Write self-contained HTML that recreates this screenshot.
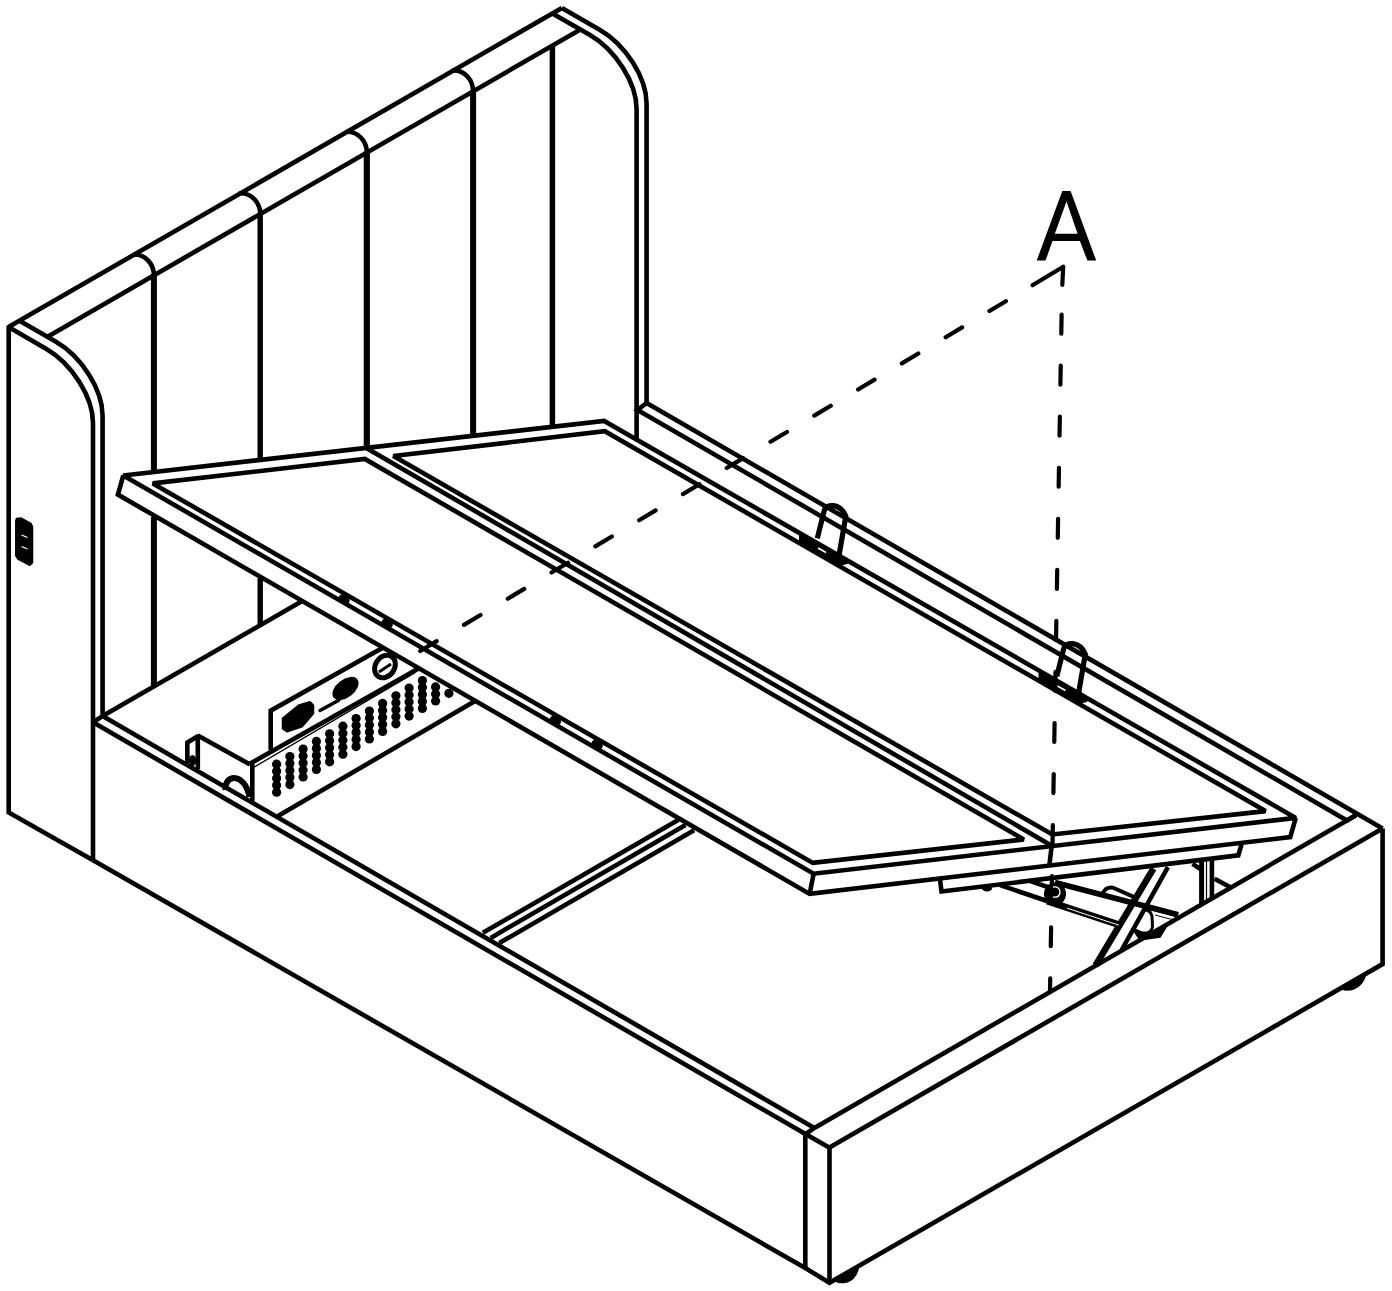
<!DOCTYPE html>
<html><head><meta charset="utf-8"><style>
html,body{margin:0;padding:0;background:#fff;}
svg{display:block;}
.A{font-family:"Liberation Sans",sans-serif;}
</style></head><body>
<svg width="1392" height="1291" viewBox="0 0 1392 1291">
<rect width="1392" height="1291" fill="#fff"/>
<g fill="none" stroke="#000" stroke-linejoin="miter" stroke-miterlimit="2.5" stroke-linecap="butt">
<path d="M8.5,327.1 L561.9,7.9" stroke-width="4.6" />
<path d="M48.0,336.4 L579.1,30.2" stroke-width="4.6" />
<path d="M8.5,327.1 L46.0,348.7 C72.0,363.7 93.0,396.9 93.0,422.9 L93.0,859.9" stroke-width="4.6" />
<path d="M19.5,320.8 L55.6,341.6 C81.6,356.6 102.6,389.7 102.6,415.7 L102.6,716.1" stroke-width="4.6" />
<path d="M561.9,7.9 L599.6,29.7 C625.6,44.6 646.6,77.8 646.6,103.8 L646.6,403" stroke-width="4.6" />
<path d="M552.4,13.4 L589.6,34.8 C615.6,49.8 636.6,83.0 636.6,109.0 L636.6,439.2" stroke-width="4.6" />
<path d="M133.4,255.1 L134.4,254.5 C145.2,254.5 153.9,263.8 153.9,275.3" stroke-width="4.6" />
<path d="M153.9,274.3 L153.9,473.0" stroke-width="6.0" />
<path d="M239.7,193.8 L240.7,193.2 C251.5,193.2 260.2,202.5 260.2,214.1" stroke-width="4.6" />
<path d="M260.2,213.1 L260.2,461.0" stroke-width="5.4" />
<path d="M346.3,132.3 L347.3,131.7 C358.1,131.7 366.8,141.0 366.8,152.6" stroke-width="4.6" />
<path d="M366.8,151.6 L366.8,448.8" stroke-width="6.2" />
<path d="M452.6,71.0 L453.6,70.4 C464.4,70.4 473.1,79.7 473.1,91.3" stroke-width="4.6" />
<path d="M473.1,90.3 L473.1,436.8" stroke-width="6.0" />
<path d="M552.4,45.6 L552.4,427.8" stroke-width="5.5" />
<path d="M153.9,516.9 L153.9,685.6" stroke-width="6.0" />
<path d="M260.2,578.2 L260.2,624.9" stroke-width="5.4" />
<path d="M8.7,325.6 L8.7,812.4 L92.6,859.9" stroke-width="4.6" />
<path d="M16.4,518.6 L21.1,518.0 L31.0,523.6 L32.5,526.7 L32.5,562.6 L29.8,565.4 L18.0,559.2 L15.8,555.8 L15.8,521.0 Z" fill="#000" stroke="#000" stroke-width="1.5" />
<path d="M21.5,535 L27.5,537.5" stroke-width="1.3" stroke="#fff"/>
<path d="M21.5,546.5 L27.5,549" stroke-width="1.3" stroke="#fff"/>
<path d="M93.0,722.3 L805.5,1134.1" stroke-width="4.6" />
<path d="M102.6,716.1 L814.4,1127.9" stroke-width="4.6" />
<path d="M93.0,722.3 L102.6,716.1" stroke-width="4.6" />
<path d="M814.4,1127.9 L805.5,1134.1 L829.5,1147.8" stroke-width="4.6" />
<path d="M805.3,1134.1 L805.3,1268.1" stroke-width="4.6" />
<path d="M829.5,1147.5 L829.5,1282.8" stroke-width="4.6" />
<path d="M92.6,859.9 L805.3,1268.1 L829.5,1282.8 L1382.6,964.1 L1382.6,828.4" stroke-width="4.6" />
<path d="M829.5,1147.5 L1382.6,828.4" stroke-width="4.6" />
<path d="M814.4,1127.9 L1356.0,815.3" stroke-width="4.6" />
<path d="M646.6,403.0 L1382.6,828.4" stroke-width="4.6" />
<path d="M646.6,403.0 L637.5,410.0 L1347.0,820.5 L1356.0,815.0" stroke-width="4.6" />
<path d="M835.5,1279.5 L858,1266.4 L858,1268.8 C857,1275 852,1281 845,1282.3 Q839,1283 835.5,1281 Z" stroke-width="1.5" fill="#000"/>
<path d="M1342,987.5 L1365.5,974 C1365,980 1360,987 1352,989.5 Q1346,990.5 1342,989 Z" stroke-width="1.5" fill="#000"/>
<path d="M102.6,716.1 L302.2,601.0" stroke-width="4.6" />
<path d="M123.3,475.5 L604.1,420.9 L1295.8,817.9 L813.6,873.7 Z" stroke-width="4.6" />
<path d="M123.3,475.5 L117.9,494.6 L809.7,893.9 L1290.2,837.1 L1295.8,817.9" stroke-width="4.6" />
<path d="M813.6,873.7 L809.7,893.9" stroke-width="4.6" />
<path d="M152.8,483.4 L364.8,458.9 L1023.8,839.5 L812.8,862.9 Z" stroke-width="4.6" />
<path d="M393.4,456.0 L604.8,431.2 L1265.5,811.1 L1052.3,834.5 Z" stroke-width="4.6" />
<path d="M366.3,447.9 L1051.7,845.7 L1049.5,864.0" stroke-width="4.6" />
<path d="M940.0,879.5 L941.5,891.5 L1238.3,855.4 L1241.5,844.5" stroke-width="4.6" />
<path d="M482.9,932.8 L678.6,819.8" stroke-width="4.6" />
<path d="M490.7,937.9 L685.5,825.0" stroke-width="4.6" />
<path d="M499.3,943.1 L694.1,830.2" stroke-width="4.6" />
<path d="M1032.5,285.2 L1063.2,266.7 L1062.3,284.8" stroke-width="4.2" stroke-linecap="round" stroke-linejoin="round"/>
<path d="M1005.9,301.2 L420.2,651" stroke-width="4.2" stroke-dasharray="19.2 31.8" stroke-linecap="round"/>
<path d="M1061.6,314.6 L1050,991.5" stroke-width="4.2" stroke-dasharray="19 32.06" stroke-linecap="round"/>
<ellipse cx="344.1" cy="599.3" rx="6" ry="4.2" transform="rotate(30 344.1 599.3)" fill="#000" stroke="none"/>
<ellipse cx="387.2" cy="623.4" rx="6" ry="4.2" transform="rotate(30 387.2 623.4)" fill="#000" stroke="none"/>
<ellipse cx="555.4" cy="720.4" rx="6" ry="4.2" transform="rotate(30 555.4 720.4)" fill="#000" stroke="none"/>
<ellipse cx="597.2" cy="744.4" rx="6" ry="4.2" transform="rotate(30 597.2 744.4)" fill="#000" stroke="none"/>
<path d="M817.3,538.4 L824.1,511.1 C826.0,503.0 840.0,503.0 845.8,516.0 L839.0,555.7" stroke-width="5.2" stroke-linejoin="round"/>
<path d="M800.0,534.5 L843.0,559.0 L847.0,563.0 L839.0,565.0 L800.0,543.5 Z" stroke-width="2" fill="#000" stroke-linejoin="round"/>
<path d="M818.0,548.0 L826.0,552.5" stroke-width="1.6" stroke="#fff"/>
<path d="M1056.8,676.4 L1063.6,649.1 C1065.5,641.0 1079.5,641.0 1085.3,654.0 L1078.5,693.7" stroke-width="5.2" stroke-linejoin="round"/>
<path d="M1039.5,672.5 L1082.5,697.0 L1086.5,701.0 L1078.5,703.0 L1039.5,681.5 Z" stroke-width="2" fill="#000" stroke-linejoin="round"/>
<path d="M1057.5,686.0 L1065.5,690.5" stroke-width="1.6" stroke="#fff"/>
<path d="M187.3,763.0 L187.3,742.5 L197.8,736.3 L197.8,769.0" stroke-width="4.6" stroke-linejoin="round"/>
<ellipse cx="192.5" cy="760.5" rx="3.6" ry="5.5" fill="#000" stroke="none"/>
<path d="M197.8,735.6 L250.1,764.5" stroke-width="4.6" />
<path d="M225.5,790 C224,774 245,772 249.5,797" stroke-width="6" />
<path d="M252.3,763.6 L252.3,801.5" stroke-width="4.6" />
<path d="M250.1,763.6 L419.0,668.3" stroke-width="4.6" />
<path d="M254,767.2 L415,672.6" stroke-width="1.3" />
<path d="M278.0,816.0 L475.1,701.0" stroke-width="4.6" />
<path d="M270.7,750.0 L270.7,710.7 L382.8,647.8" stroke-width="4.6" />
<path d="M283,718.4 L299,705.4 L310,702.3 L313,705.4 L313,713.4 L302,726.2 L287,731.3 L283,728.4 Z" stroke-width="2.5" fill="#000" stroke-linejoin="round"/>
<ellipse cx="345.5" cy="688.5" rx="15" ry="9" transform="rotate(-38 345.5 688.5)" fill="#000" stroke="none"/>
<ellipse cx="385" cy="666.5" rx="9.5" ry="12" transform="rotate(35 385 666.5)" fill="none" stroke="#000" stroke-width="5"/>
<path d="M379.0,672.0 L391.0,664.0" stroke-width="3" />
<path d="M320.0,710.5 L338.8,700.2" stroke-width="3.5" stroke-linecap="round"/>
<g fill="#000" stroke="none"><circle cx="276.6" cy="764.2" r="4.6"/><circle cx="276.6" cy="771.2" r="4.6"/><circle cx="276.6" cy="778.2" r="4.6"/><circle cx="276.6" cy="785.2" r="4.6"/><circle cx="276.6" cy="792.2" r="4.6"/><circle cx="289.9" cy="756.6" r="4.6"/><circle cx="289.9" cy="763.6" r="4.6"/><circle cx="289.9" cy="770.6" r="4.6"/><circle cx="289.9" cy="777.6" r="4.6"/><circle cx="289.9" cy="784.6" r="4.6"/><circle cx="303.1" cy="749.0" r="4.6"/><circle cx="303.1" cy="756.0" r="4.6"/><circle cx="303.1" cy="763.0" r="4.6"/><circle cx="303.1" cy="770.0" r="4.6"/><circle cx="303.1" cy="777.0" r="4.6"/><circle cx="316.4" cy="741.4" r="4.6"/><circle cx="316.4" cy="748.4" r="4.6"/><circle cx="316.4" cy="755.4" r="4.6"/><circle cx="316.4" cy="762.4" r="4.6"/><circle cx="316.4" cy="769.4" r="4.6"/><circle cx="329.6" cy="733.8" r="4.6"/><circle cx="329.6" cy="740.8" r="4.6"/><circle cx="329.6" cy="747.8" r="4.6"/><circle cx="329.6" cy="754.8" r="4.6"/><circle cx="329.6" cy="761.8" r="4.6"/><circle cx="342.9" cy="726.2" r="4.6"/><circle cx="342.9" cy="733.2" r="4.6"/><circle cx="342.9" cy="740.2" r="4.6"/><circle cx="342.9" cy="747.2" r="4.6"/><circle cx="342.9" cy="754.2" r="4.6"/><circle cx="356.1" cy="718.6" r="4.6"/><circle cx="356.1" cy="725.6" r="4.6"/><circle cx="356.1" cy="732.6" r="4.6"/><circle cx="356.1" cy="739.6" r="4.6"/><circle cx="356.1" cy="746.6" r="4.6"/><circle cx="369.4" cy="711.0" r="4.6"/><circle cx="369.4" cy="718.0" r="4.6"/><circle cx="369.4" cy="725.0" r="4.6"/><circle cx="369.4" cy="732.0" r="4.6"/><circle cx="369.4" cy="739.0" r="4.6"/><circle cx="382.6" cy="703.4" r="4.6"/><circle cx="382.6" cy="710.4" r="4.6"/><circle cx="382.6" cy="717.4" r="4.6"/><circle cx="382.6" cy="724.4" r="4.6"/><circle cx="382.6" cy="731.4" r="4.6"/><circle cx="395.9" cy="695.8" r="4.6"/><circle cx="395.9" cy="702.8" r="4.6"/><circle cx="395.9" cy="709.8" r="4.6"/><circle cx="395.9" cy="716.8" r="4.6"/><circle cx="395.9" cy="723.8" r="4.6"/><circle cx="409.1" cy="688.1" r="4.6"/><circle cx="409.1" cy="695.1" r="4.6"/><circle cx="409.1" cy="702.1" r="4.6"/><circle cx="409.1" cy="709.1" r="4.6"/><circle cx="409.1" cy="716.1" r="4.6"/><circle cx="422.4" cy="680.5" r="4.6"/><circle cx="422.4" cy="687.5" r="4.6"/><circle cx="422.4" cy="694.5" r="4.6"/><circle cx="422.4" cy="701.5" r="4.6"/><circle cx="422.4" cy="708.5" r="4.6"/><circle cx="435.6" cy="686.9" r="4.6"/><circle cx="435.6" cy="693.9" r="4.6"/><circle cx="435.6" cy="700.9" r="4.6"/><circle cx="448.9" cy="693.3" r="4.6"/></g>
<path d="M1153.5,868.5 L1095.5,965.5" stroke-width="6.5" />
<path d="M1167.9,867.2 L1121.4,950.5" stroke-width="4.6" />
<path d="M1201.6,859.4 L1201.6,905.5" stroke-width="5" />
<path d="M1211.9,859.4 L1211.9,900.0" stroke-width="4.6" />
<path d="M1206.5,860.0 L1206.5,903.0" stroke-width="1.2" />
<path d="M1192.5,863.9 L1201.6,869.7" stroke-width="4.6" />
<path d="M1214.5,878.8 L1231.3,887.8" stroke-width="4.6" />
<path d="M1000.1,885.1 L1047.0,901.0" stroke-width="4.6" />
<path d="M1030.3,881.1 L1054.4,889.2" stroke-width="4.6" />
<path d="M1054.9,882.6 L1178.0,914.8" stroke-width="5.7" />
<path d="M1047.0,901.0 L1120.5,925.2" stroke-width="6.8" />
<path d="M1067,908.2 L1119,925.2" stroke-width="1.0" stroke="#fff"/>
<ellipse cx="1055" cy="894" rx="11" ry="11.5" fill="#000" stroke="none"/>
<path d="M1053,887 Q1060,886 1060,893 Q1059,898 1053,897" stroke-width="1.3" stroke="#fff"/>
<path d="M1100.7,895.3 L1106,889 Q1111,886 1116,889 L1135.4,897.6" stroke-width="4" />
<path d="M1143,910 Q1150,909 1152,916 L1152.5,927 Q1151,934 1142,933" stroke-width="3" />
<path d="M1132.0,928.0 L1146.0,934.0 L1156.0,931.0 L1168.0,924.0 L1160.0,937.0 L1140.0,940.0 Z" fill="#000" stroke="#000" stroke-width="1.5" />
<path d="M1147.0,906.8 L1178.0,914.8" stroke-width="5" />
<path d="M1155,915 L1172,919.5" stroke-width="1.0" />
<ellipse cx="987" cy="888.5" rx="5" ry="3" fill="#000" stroke="none"/>
</g>
<path fill="#000" fill-rule="evenodd" d="M1036.7,260.6 L1062.3,190.9 L1070.6,190.9 L1096.2,260.6 L1087.4,260.6 L1079.9,241.1 L1052.5,241.1 L1045.5,260.6 Z M1066.5,201.6 L1077.6,233.7 L1054.8,233.7 Z"/>
</svg>
</body></html>
